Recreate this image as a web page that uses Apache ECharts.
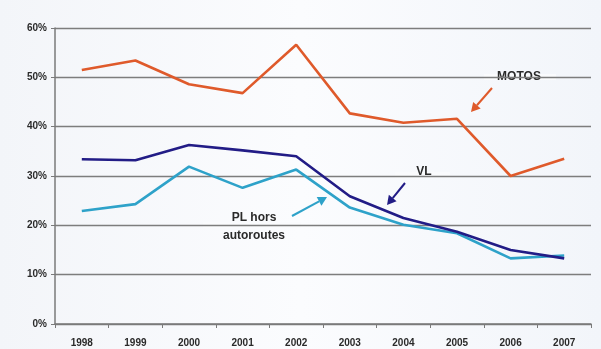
<!DOCTYPE html>
<html>
<head>
<meta charset="utf-8">
<script src="https://cdn.jsdelivr.net/npm/echarts@6/dist/echarts.min.js"></script>
<style>
  html, body { margin: 0; padding: 0; background: #f6f8fb; }
  #chart { width: 601px; height: 349px; }
</style>
</head>
<body>
<div id="chart"></div>
<script>
// Years and yearly shares (%) per vehicle category
const years = ['1998', '1999', '2000', '2001', '2002', '2003', '2004', '2005', '2006', '2007'];
const motos = [51.5, 53.4, 48.6, 46.8, 56.6, 42.7, 40.8, 41.6, 30.0, 33.5];
const vl    = [33.4, 33.2, 36.3, 35.2, 34.0, 25.9, 21.5, 18.7, 15.0, 13.3];
const pl    = [22.9, 24.3, 31.9, 27.6, 31.3, 23.6, 20.1, 18.4, 13.3, 13.9];

const C_MOTOS = '#df5a2b';
const C_VL = '#221c86';
const C_PL = '#2ea2c9';
const PATCH = '#fafbfd';

const chart = echarts.init(document.getElementById('chart'));

// Arrow built from a shaft and a triangular head
function arrow(x1, y1, x2, y2, color) {
  const ang = Math.atan2(y2 - y1, x2 - x1);
  const L = 9, W = 5;
  const bx = x2 - L * Math.cos(ang), by = y2 - L * Math.sin(ang);
  const px = -Math.sin(ang) * W, py = Math.cos(ang) * W;
  return {
    type: 'group', silent: true, z: 20,
    children: [
      { type: 'line', shape: { x1: x1, y1: y1, x2: bx, y2: by },
        style: { stroke: color, lineWidth: 2 } },
      { type: 'polygon', shape: { points: [[x2, y2], [bx + px, by + py], [bx - px, by - py]] },
        style: { fill: color } }
    ]
  };
}

// Label with a small patch that interrupts the gridline it sits on
function label(x, y, gapX, gapW, gridY, text) {
  return {
    type: 'group', silent: true, z: 15,
    children: [
      { type: 'rect', shape: { x: gapX, y: gridY - 3, width: gapW, height: 6 },
        style: { fill: PATCH } },
      { type: 'text', x: x, y: y,
        style: { text: text, fill: '#2a2a2a', font: 'bold 12px "Liberation Sans", Arial, sans-serif',
                 align: 'center', verticalAlign: 'middle', lineHeight: 18 } }
    ]
  };
}

const lineSeries = (name, data, color) => ({
  name: name, type: 'line', data: data, symbol: 'none',
  lineStyle: { color: color, width: 2.6 }, itemStyle: { color: color },
  z: name === 'VL' ? 4 : 3
});

chart.setOption({
  backgroundColor: {
    type: 'linear', x: 0, y: 0, x2: 1, y2: 0,
    colorStops: [{ offset: 0, color: '#f3f5f9' }, { offset: 0.5, color: '#fbfcfe' }, { offset: 1, color: '#f2f5fa' }]
  },
  animation: false,
  grid: { left: 55, right: 10, top: 28, bottom: 25 },
  xAxis: {
    type: 'category', data: years, boundaryGap: true,
    axisLine: { lineStyle: { color: '#7a7a7a', width: 1.5 } },
    axisTick: { show: true, length: 4, lineStyle: { color: '#7a7a7a' } },
    axisLabel: { color: '#2a2a2a', fontWeight: 'bold', fontSize: 10, margin: 14,
                 fontFamily: '"Liberation Sans", Arial, sans-serif' }
  },
  yAxis: {
    type: 'value', min: 0, max: 60, interval: 10,
    axisLine: { show: true, lineStyle: { color: '#7a7a7a', width: 1.5 } },
    axisTick: { show: true, length: 4, lineStyle: { color: '#7a7a7a' } },
    splitLine: { lineStyle: { color: '#7d7d7d', width: 1.4 } },
    axisLabel: { formatter: '{value}%', color: '#2a2a2a', fontWeight: 'bold', fontSize: 10, margin: 8,
                 fontFamily: '"Liberation Sans", Arial, sans-serif' }
  },
  series: [
    lineSeries('MOTOS', motos, C_MOTOS),
    lineSeries('PL hors autoroutes', pl, C_PL),
    lineSeries('VL', vl, C_VL)
  ],
  graphic: [
    label(519, 77, 484, 72, 77, 'MOTOS'),
    arrow(492, 88, 471, 112, C_MOTOS),
    label(424, 172, 395, 55, 175, 'VL'),
    arrow(405, 183, 387, 205, C_VL),
    label(254, 227, 203, 98, 225, 'PL hors\nautoroutes'),
    arrow(292, 216, 327, 197, C_PL)
  ]
});
</script>
</body>
</html>
